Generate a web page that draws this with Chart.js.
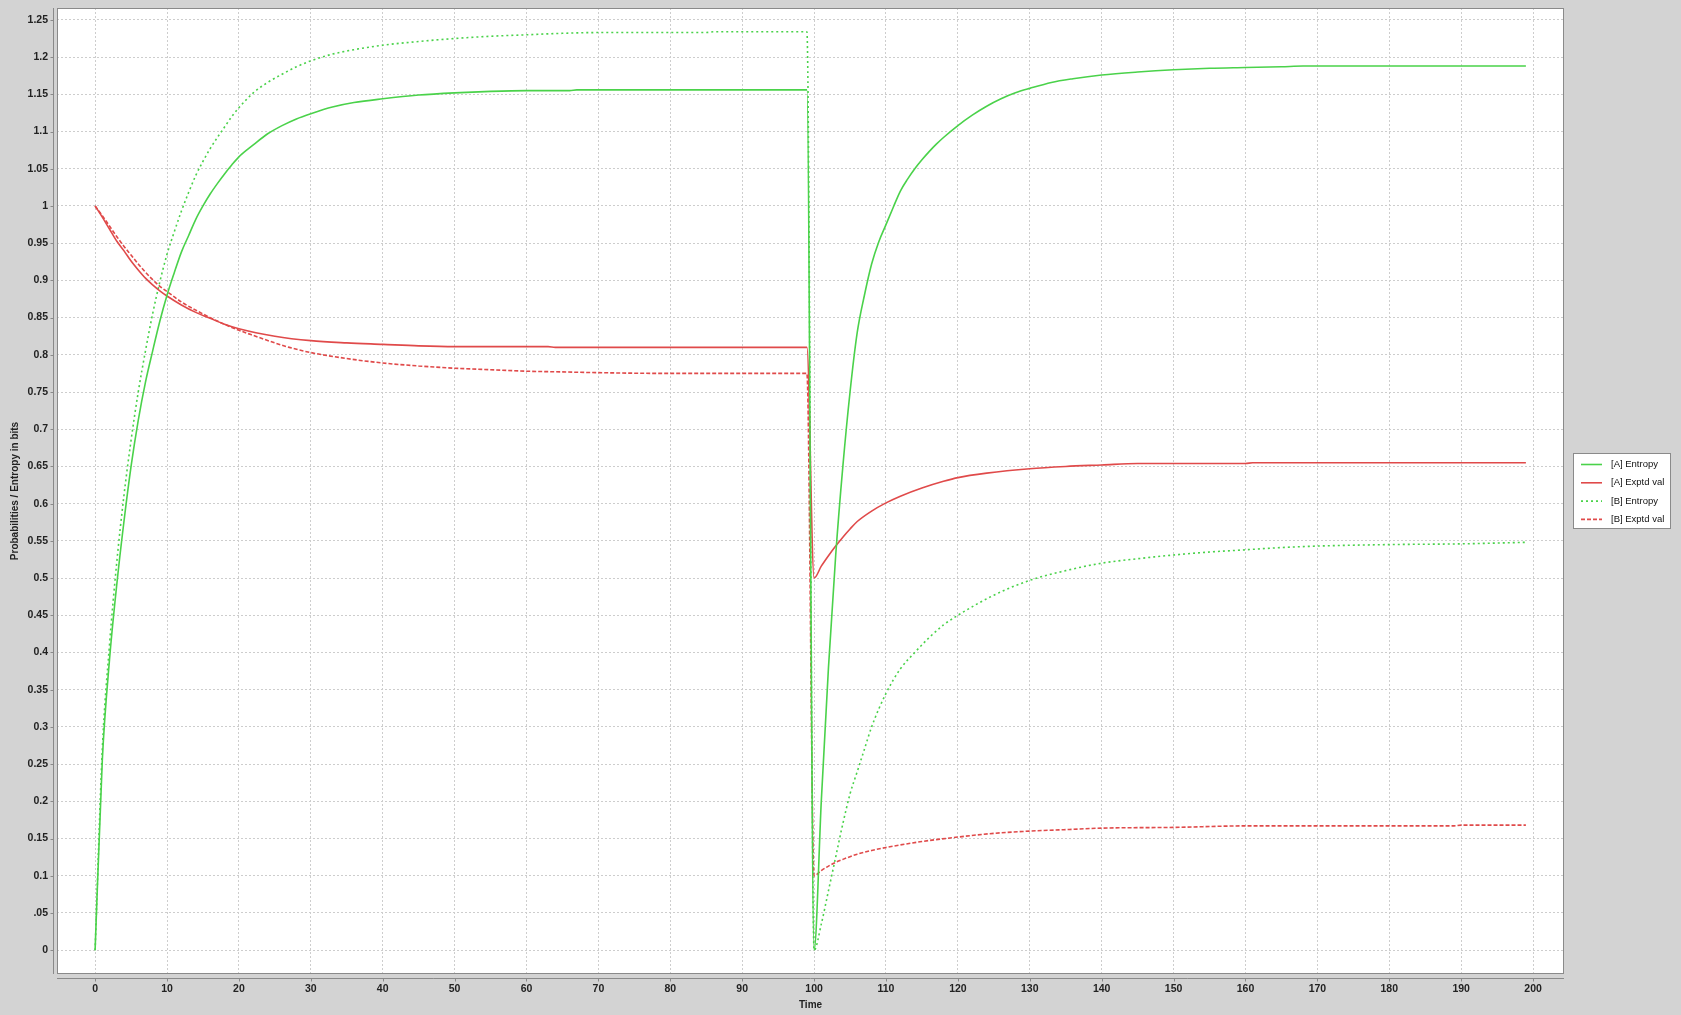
<!DOCTYPE html>
<html><head><meta charset="utf-8">
<script src="https://cdn.jsdelivr.net/npm/chart.js@4.4.1/dist/chart.umd.min.js"></script>
<style>html,body{margin:0;padding:0;background:#d3d3d3;}canvas{display:block;}</style>
</head><body>
<canvas id="c" width="1681" height="1015"></canvas>
<script>
// ---- data ----
const seriesNames = ['[A] Entropy', '[A] Exptd val', '[B] Entropy', '[B] Exptd val'];

const aEntropy = [[0,0],[1,0.255],[2,0.39],[3,0.49],[4,0.575],[5,0.65],[6,0.712],[7,0.763],[8,0.805],[9,0.845],[10,0.88],[11,0.91],[12,0.938],[13,0.96],[14,0.982],[15,1.0],[16,1.016],[17,1.03],[18,1.043],[19,1.055],[20,1.066],[22,1.082],[24,1.097],[26,1.108],[28,1.117],[30,1.124],[33,1.133],[36,1.139],[40,1.144],[45,1.149],[50,1.152],[55,1.154],[60,1.155],[66,1.155],[67,1.156],[99,1.156],
  [100,0],[101,0.2],[102,0.38],[103,0.53],[104,0.65],[105,0.75],[106,0.83],[107,0.88],[108,0.922],[109,0.952],[110,0.975],[111,0.998],[112,1.02],[113,1.036],[114,1.05],[115,1.062],[116,1.073],[117,1.083],[118,1.092],[120,1.108],[122,1.122],[124,1.134],[126,1.144],[128,1.152],[130,1.158],[133,1.166],[136,1.171],[140,1.176],[145,1.18],[150,1.183],[155,1.185],[160,1.186],[165,1.187],[168,1.188],[199,1.188]];

const aExptd = [[0,1.0],[1,0.985],[2,0.969],[3,0.953],[4,0.94],[5,0.926],[6,0.914],[7,0.903],[8,0.894],[9,0.886],[10,0.879],[12,0.867],[14,0.857],[16,0.849],[18,0.841],[20,0.835],[25,0.825],[30,0.819],[35,0.816],[40,0.814],[45,0.812],[50,0.811],[63,0.811],[64,0.81],[99,0.81],
  [100,0.5],[101,0.516],[102,0.53],[103,0.543],[104,0.555],[105,0.566],[106,0.576],[108,0.59],[110,0.601],[112,0.61],[115,0.621],[118,0.63],[120,0.635],[124,0.641],[130,0.647],[135,0.65],[140,0.652],[145,0.654],[160,0.654],[161,0.655],[199,0.655]];

const bEntropy = [[0,0],[1,0.27],[2,0.41],[3,0.52],[4,0.61],[5,0.685],[6,0.75],[7,0.805],[8,0.855],[9,0.898],[10,0.935],[11,0.965],[12,0.993],[13,1.018],[14,1.041],[15,1.06],[16,1.077],[17,1.092],[18,1.106],[19,1.12],[20,1.132],[22,1.152],[24,1.166],[26,1.177],[28,1.187],[30,1.195],[33,1.204],[36,1.21],[40,1.216],[45,1.221],[50,1.225],[55,1.228],[60,1.23],[65,1.232],[70,1.233],[85,1.233],[86,1.234],[99,1.234],
  [100,0],[101,0.035],[102,0.08],[103,0.125],[104,0.17],[105,0.21],[106,0.24],[107,0.27],[108,0.3],[110,0.345],[112,0.378],[114,0.4],[116,0.42],[118,0.437],[120,0.45],[125,0.477],[130,0.497],[135,0.51],[140,0.52],[145,0.526],[150,0.531],[155,0.535],[160,0.538],[165,0.541],[170,0.543],[180,0.545],[190,0.546],[199,0.548]];

const bExptd = [[0,1.0],[1,0.987],[2,0.973],[3,0.959],[4,0.946],[5,0.934],[6,0.922],[7,0.911],[8,0.901],[9,0.892],[10,0.885],[12,0.871],[14,0.86],[16,0.85],[18,0.841],[20,0.833],[22,0.826],[25,0.816],[27,0.81],[30,0.803],[35,0.795],[40,0.789],[45,0.785],[50,0.782],[55,0.78],[60,0.778],[65,0.777],[70,0.776],[80,0.775],[99,0.775],
  [100,0.1],[101,0.107],[102,0.113],[103,0.118],[104,0.122],[106,0.129],[108,0.134],[110,0.138],[115,0.146],[120,0.152],[125,0.157],[130,0.16],[135,0.162],[140,0.164],[150,0.165],[160,0.167],[189,0.167],[190,0.168],[199,0.168]];

const xTickValues = [0,10,20,30,40,50,60,70,80,90,100,110,120,130,140,150,160,170,180,190,200];
const yTickValues = [0,0.05,0.1,0.15,0.2,0.25,0.3,0.35,0.4,0.45,0.5,0.55,0.6,0.65,0.7,0.75,0.8,0.85,0.9,0.95,1,1.05,1.1,1.15,1.2,1.25];
const yTickLabels = ['0','.05','0.1','0.15','0.2','0.25','0.3','0.35','0.4','0.45','0.5','0.55','0.6','0.65','0.7','0.75','0.8','0.85','0.9','0.95','1','1.05','1.1','1.15','1.2','1.25'];
const xTitle = 'Time';
const yTitle = 'Probabilities / Entropy in bits';

// ---- styling ----
const GREEN = '#4ad24a';
const RED = '#e04a4a';
const FONT = '"Liberation Sans", Arial, Helvetica, sans-serif';

function pts(arr) { return arr.map(p => ({x: p[0], y: p[1]})); }

const framePlugin = {
  id: 'frame',
  beforeDraw(chart) {
    const {ctx, chartArea: a} = chart;
    ctx.save();
    ctx.fillStyle = '#d3d3d3';
    ctx.fillRect(0, 0, chart.width, chart.height);
    ctx.fillStyle = '#ffffff';
    ctx.fillRect(a.left, a.top, a.right - a.left, a.bottom - a.top);
    ctx.restore();
  },
  afterDraw(chart) {
    const {ctx, chartArea: a, scales} = chart;
    const xs = scales.x, ys = scales.y;
    ctx.save();
    ctx.strokeStyle = '#8a8a8a';
    ctx.lineWidth = 1;
    ctx.strokeRect(a.left + 0.5, a.top + 0.5, a.right - a.left - 1, a.bottom - a.top - 1);
    // offset axis lines
    const ax = a.left - 3.5;
    const ay = a.bottom + 4.5;
    ctx.beginPath();
    ctx.moveTo(ax, a.top); ctx.lineTo(ax, a.bottom);
    ctx.moveTo(a.left, ay); ctx.lineTo(a.right, ay);
    ctx.stroke();
    // tick marks
    ctx.beginPath();
    ys.ticks.forEach(t => {
      const py = Math.round(ys.getPixelForValue(t.value)) + 0.5;
      ctx.moveTo(ax - 3, py); ctx.lineTo(ax, py);
    });
    xs.ticks.forEach(t => {
      const px = Math.round(xs.getPixelForValue(t.value)) + 0.5;
      ctx.moveTo(px, ay); ctx.lineTo(px, ay + 3);
    });
    ctx.stroke();
    // legend
    const lx = 1573.5, ly = 453.5, lw = 97, lh = 75;
    ctx.fillStyle = '#ffffff';
    ctx.fillRect(lx, ly, lw, lh);
    ctx.strokeStyle = '#8a8a8a';
    ctx.strokeRect(lx, ly, lw, lh);
    chart.data.datasets.forEach((ds, i) => {
      const yy = 464.5 + i * 18.3;
      ctx.strokeStyle = ds.borderColor;
      ctx.lineWidth = ds.borderWidth;
      ctx.setLineDash(ds.borderDash || []);
      ctx.beginPath();
      ctx.moveTo(1581, yy); ctx.lineTo(1602, yy);
      ctx.stroke();
      ctx.setLineDash([]);
      ctx.fillStyle = '#111';
      ctx.font = '9.5px ' + FONT;
      ctx.textBaseline = 'middle';
      ctx.textAlign = 'left';
      ctx.fillText(ds.label, 1611, yy);
    });
    ctx.restore();
  }
};

const common = {borderWidth: 1.6, pointRadius: 0, pointHoverRadius: 0, fill: false, cubicInterpolationMode: 'monotone'};

new Chart(document.getElementById('c'), {
  type: 'line',
  data: {
    datasets: [
      Object.assign({label: seriesNames[0], data: pts(aEntropy), borderColor: GREEN}, common),
      Object.assign({label: seriesNames[1], data: pts(aExptd), borderColor: RED}, common),
      Object.assign({label: seriesNames[2], data: pts(bEntropy), borderColor: GREEN, borderDash: [2, 3]}, common),
      Object.assign({label: seriesNames[3], data: pts(bExptd), borderColor: RED, borderDash: [4, 2]}, common)
    ]
  },
  options: {
    responsive: false,
    devicePixelRatio: 1,
    animation: false,
    parsing: false,
    layout: {padding: {left: 0, top: 8, right: 117, bottom: 0}},
    plugins: {legend: {display: false}, tooltip: {enabled: false}},
    scales: {
      x: {
        type: 'linear', min: -5.3, max: 204.3,
        afterBuildTicks: s => { s.ticks = xTickValues.map(v => ({value: v})); },
        afterFit: s => { s.height = 41; s.paddingLeft = 0; s.paddingRight = 0; s.paddingTop = 0; s.paddingBottom = 0; },
        grid: {color: '#cdcdcd', lineWidth: 1, drawTicks: false},
        border: {display: false, dash: [2, 2]},
        ticks: {padding: 9, color: '#222', autoSkip: false, maxRotation: 0,
          font: {family: FONT, size: 10.5, weight: 'bold'},
          callback: (v, i) => String(xTickValues[i])},
        title: {display: true, text: xTitle, color: '#222', padding: {top: 0, bottom: 4},
          font: {family: FONT, size: 10, weight: 'bold'}}
      },
      y: {
        type: 'linear', min: -0.032, max: 1.266,
        afterBuildTicks: s => { s.ticks = yTickValues.map(v => ({value: v})); },
        afterFit: s => { s.width = 57; s.paddingLeft = 0; s.paddingRight = 0; s.paddingTop = 0; s.paddingBottom = 0; },
        grid: {color: '#cdcdcd', lineWidth: 1, drawTicks: false},
        border: {display: false, dash: [2, 2]},
        ticks: {padding: 9, color: '#222', autoSkip: false,
          font: {family: FONT, size: 10.5, weight: 'bold'},
          callback: (v, i) => yTickLabels[i]},
        title: {display: true, text: yTitle, color: '#222', padding: {top: 9, bottom: 0},
          font: {family: FONT, size: 10, weight: 'bold'}}
      }
    }
  },
  plugins: [framePlugin]
});
</script>
</body></html>
